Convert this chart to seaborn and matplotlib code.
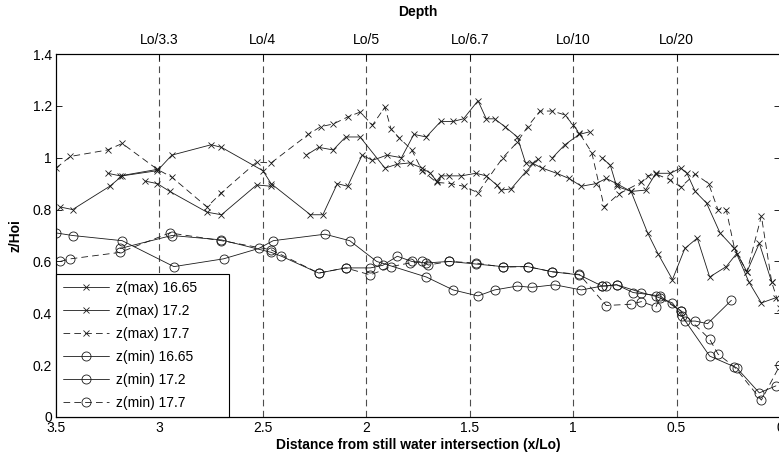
import numpy as np
import pandas as pd
import matplotlib
matplotlib.use("Agg")
import matplotlib.pyplot as plt
from matplotlib.lines import Line2D
import seaborn as sns

# Non-dimensional envelope heights z/Hoi versus distance x/Lo (NaN marks a break in the record)
zmax_1665_x = [3.48, 3.42, 3.24, 3.18, 3.01, 2.94, 2.75, 2.70, 2.50, 2.46, 2.27, 2.21, 2.14, 2.09, 2.02,
               1.97, 1.90, 1.83, 1.77, 1.71, 1.64, 1.58, 1.53, 1.46, 1.42, 1.38, 1.33, 1.27, 1.23, 1.20,
               1.15, 1.08, 1.02, 0.96, 0.89, 0.84, 0.79, 0.72, 0.64, 0.59, 0.52, 0.46, 0.40, 0.34, 0.26,
               0.21, 0.15, 0.09, 0.02]
zmax_1665_y = [0.81, 0.80, 0.89, 0.93, 0.95, 1.01, 1.05, 1.04, 0.95, 0.90, 0.78, 0.78, 0.90, 0.89, 1.01,
               0.99, 1.01, 1.00, 1.09, 1.08, 1.14, 1.14, 1.15, 1.22, 1.15, 1.15, 1.12, 1.08, 0.98, 0.98,
               0.96, 0.94, 0.92, 0.89, 0.90, 0.92, 0.90, 0.87, 0.71, 0.63, 0.53, 0.65, 0.69, 0.54, 0.58,
               0.63, 0.52, 0.44, 0.46]

zmax_172_x = [3.25, 3.19, 3.01, np.nan, 3.07, 3.01, 2.95, 2.77, 2.70, 2.53, 2.46, np.nan, 2.29, 2.23, 2.16,
              2.10, 2.03, 1.91, 1.85, 1.79, 1.73, 1.69, 1.66, 1.64, 1.60, 1.54, 1.47, 1.42, 1.37, 1.35,
              1.30, 1.23, 1.17, np.nan, 1.10, 1.04, 0.97, 0.92, np.nan, 0.86, 0.82, 0.79, 0.72, 0.65, 0.60,
              0.53, 0.48, 0.45, 0.41, 0.355, 0.29, 0.22, 0.16, 0.10, 0.04]
zmax_172_y = [0.94, 0.93, 0.955, np.nan, 0.91, 0.90, 0.87, 0.79, 0.78, 0.895, 0.89, np.nan, 1.01, 1.04, 1.03,
              1.08, 1.08, 0.96, 0.975, 0.98, 0.96, 0.94, 0.91, 0.93, 0.93, 0.93, 0.94, 0.93, 0.895, 0.875,
              0.88, 0.945, 0.995, np.nan, 1.0, 1.05, 1.09, 1.10, np.nan, 1.0, 0.97, 0.89, 0.87, 0.875, 0.94,
              0.94, 0.96, 0.94, 0.87, 0.825, 0.71, 0.65, 0.56, 0.67, 0.52]

zmax_177_x = [3.50, 3.43, 3.25, 3.18, 3.01, 2.94, 2.77, 2.70, 2.53, 2.46, 2.28, 2.22, 2.16, 2.09, 2.03,
              1.97, 1.91, 1.88, 1.84, 1.78, 1.73, 1.66, 1.59, 1.53, 1.46, 1.34, 1.27, 1.22, 1.16, 1.10,
              1.04, 1.00, 0.97, 0.91, 0.85, 0.78, 0.67, 0.64, 0.60, 0.53, 0.48, 0.41, 0.345, 0.30, 0.26,
              0.22, 0.16, 0.09, 0.04, 0.0]
zmax_177_y = [0.96, 1.005, 1.03, 1.055, 0.955, 0.925, 0.81, 0.865, 0.983, 0.98, 1.09, 1.12, 1.13, 1.157, 1.176,
              1.126, 1.195, 1.11, 1.076, 1.03, 0.95, 0.905, 0.90, 0.89, 0.865, 1.0, 1.06, 1.12, 1.18, 1.18,
              1.165, 1.126, 1.095, 1.02, 0.81, 0.86, 0.906, 0.93, 0.937, 0.914, 0.887, 0.937, 0.90, 0.80, 0.80,
              0.65, 0.56, 0.775, 0.52, 0.42]

zmin_1665_x = [3.50, 3.42, 3.18, 2.93, 2.69, 2.52, 2.45, 2.20, 2.08, 1.95, 1.71, 1.58, 1.46, 1.38, 1.27,
               1.20, 1.09, 0.96, 0.86, 0.84, 0.79, 0.71, 0.58, 0.48, 0.46, 0.41, 0.35, 0.235]
zmin_1665_y = [0.71, 0.70, 0.68, 0.58, 0.61, 0.65, 0.68, 0.705, 0.68, 0.60, 0.54, 0.49, 0.467, 0.49, 0.505,
               0.50, 0.51, 0.49, 0.505, 0.505, 0.51, 0.48, 0.467, 0.41, 0.37, 0.37, 0.36, 0.45]

zmin_172_x = [3.19, 2.94, 2.70, 2.46, 2.41, 2.23, 2.10, 1.98, 1.92, 1.85, 1.78, 1.71, 1.60, 1.47, 1.34,
              1.22, 1.10, 0.97, 0.86, 0.79, 0.67, 0.60, 0.52, 0.475, 0.34, 0.21, 0.10, 0.02]
zmin_172_y = [0.65, 0.70, 0.683, 0.635, 0.62, 0.555, 0.575, 0.575, 0.585, 0.62, 0.60, 0.594, 0.60, 0.59, 0.58,
              0.58, 0.56, 0.548, 0.505, 0.51, 0.48, 0.465, 0.44, 0.39, 0.235, 0.19, 0.093, 0.12]

zmin_177_x = [3.48, 3.43, 3.19, 2.95, 2.70, 2.46, 2.23, 2.10, 1.98, 1.88, 1.79, 1.73, 1.70, 1.60, 1.47,
              1.34, 1.22, 1.10, 0.97, 0.84, 0.72, 0.67, 0.60, 0.58, 0.48, 0.34, 0.30, 0.22, 0.09, 0.0]
zmin_177_y = [0.60, 0.61, 0.635, 0.71, 0.68, 0.645, 0.555, 0.575, 0.548, 0.58, 0.594, 0.60, 0.586, 0.60, 0.594,
              0.578, 0.58, 0.56, 0.55, 0.43, 0.435, 0.445, 0.425, 0.46, 0.41, 0.30, 0.243, 0.193, 0.065, 0.20]

series_labels = ["z(max) 16.65", "z(max) 17.2", "z(max) 17.7",
                 "z(min) 16.65", "z(min) 17.2", "z(min) 17.7"]

# Water depth at selected distances (top axis)
depth_pos = [3.0, 2.5, 2.0, 1.5, 1.0, 0.5]
depth_labels = ["Lo/3.3", "Lo/4", "Lo/5", "Lo/6.7", "Lo/10", "Lo/20"]

x_ticks = [3.5, 3.0, 2.5, 2.0, 1.5, 1.0, 0.5, 0.0]
x_ticklabels = ["3.5", "3", "2.5", "2", "1.5", "1", "0.5", "0"]
y_ticks = [0, 0.2, 0.4, 0.6, 0.8, 1.0, 1.2, 1.4]
y_ticklabels = ["0", "0.2", "0.4", "0.6", "0.8", "1", "1.2", "1.4"]


def to_frame(xs, ys):
    x = np.asarray(xs, dtype=float)
    y = np.asarray(ys, dtype=float)
    seg = np.cumsum(np.isnan(x))
    return pd.DataFrame({"x": x, "z": y, "seg": seg}).dropna()


sns.set_theme(style="ticks", rc={
    "axes.edgecolor": "black", "xtick.color": "black", "ytick.color": "black",
    "text.color": "black", "axes.labelcolor": "black", "axes.linewidth": 0.8,
})
plt.rcParams["font.family"] = ["Liberation Sans", "DejaVu Sans"]
plt.rcParams["font.size"] = 10

fig = plt.figure(figsize=(7.79, 4.57), dpi=100)
ax = fig.add_axes([56 / 779, 40 / 457, 724 / 779, 363 / 457])

dash = (0, (8, 5))
styles = [
    ("-", "x", 4.0),
    ("-", "x", 4.0),
    (dash, "x", 4.0),
    ("-", "o", 6.5),
    ("-", "o", 6.5),
    (dash, "o", 6.5),
]
data = [(zmax_1665_x, zmax_1665_y), (zmax_172_x, zmax_172_y), (zmax_177_x, zmax_177_y),
        (zmin_1665_x, zmin_1665_y), (zmin_172_x, zmin_172_y), (zmin_177_x, zmin_177_y)]

handles = []
for (xs, ys), (ls, mk, ms) in zip(data, styles):
    df = to_frame(xs, ys)
    sns.lineplot(data=df, x="x", y="z", units="seg", estimator=None, sort=False,
                 color="k", lw=0.6, linestyle=ls, marker=mk, markersize=ms,
                 mec="k", mfc="none", mew=0.6, ax=ax, legend=False)
    handles.append(Line2D([], [], color="k", lw=0.6, linestyle=ls, marker=mk,
                          markersize=ms, mec="k", mfc="none", mew=0.6))

# Depth reference lines
for xp in depth_pos:
    ax.axvline(xp, color="0.3", lw=0.8, linestyle=(0, (6, 4)), zorder=1)

ax.set_xlim(3.5, 0.0)
ax.set_ylim(0, 1.4)
ax.set_xticks(x_ticks)
ax.set_xticklabels(x_ticklabels)
ax.set_yticks(y_ticks)
ax.set_yticklabels(y_ticklabels)
ax.tick_params(direction="in", length=4, width=0.6, right=True, top=False, labelsize=10, pad=3)
ax.set_xlabel("Distance from still water intersection (x/Lo)", fontweight="bold", fontsize=10, labelpad=2)
ax.set_ylabel("z/Hoi", fontweight="bold", fontsize=10, labelpad=7)
for s in ax.spines.values():
    s.set_color("black")
    s.set_linewidth(0.8)

ax2 = ax.twiny()
ax2.set_xlim(ax.get_xlim())
ax2.set_xticks(depth_pos)
ax2.set_xticklabels(depth_labels)
ax2.tick_params(axis="x", direction="in", length=4, width=0.6, labelsize=10, pad=5)
ax2.set_xlabel("Depth", fontweight="bold", fontsize=10, labelpad=12)
for s in ax2.spines.values():
    s.set_linewidth(0.8)

leg = ax.legend(handles, series_labels, loc="lower left", bbox_to_anchor=(0, 0, 173 / 724, 0.4),
                mode="expand", borderaxespad=0, frameon=True, fancybox=False, framealpha=1,
                edgecolor="black", fontsize=10, handlelength=3.3, handletextpad=0.5,
                labelspacing=0.65, borderpad=0.5)
leg.get_frame().set_linewidth(0.8)
leg.set_zorder(5)

fig.savefig("out.png", dpi=100)
